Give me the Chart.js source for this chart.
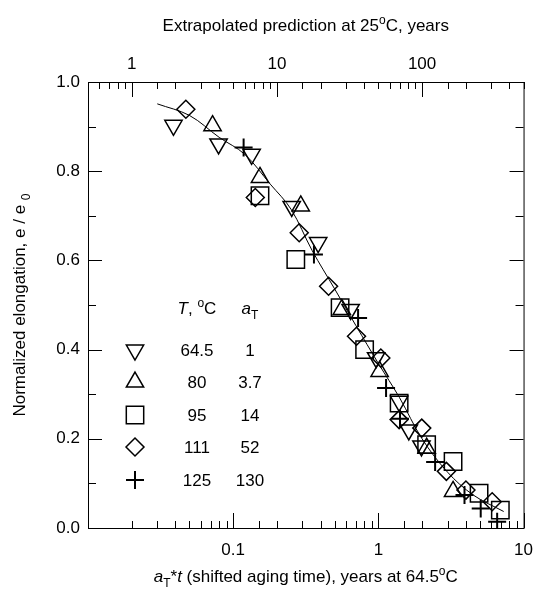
<!DOCTYPE html>
<html>
<head>
<meta charset="utf-8">
<title>Normalized elongation vs shifted aging time</title>
<script src="https://cdn.jsdelivr.net/npm/chart.js@4.4.1/dist/chart.umd.min.js"></script>
<style>
  html, body { margin: 0; padding: 0; background: #fff; overflow: hidden; }
  canvas { display: block; }
</style>
</head>
<body>
<canvas id="agingChart" width="545" height="590"></canvas>
<script>
// data: x = aT*t (years at 64.5 C), y = e/e0
const downTriX = [0.0388, 0.0793, 0.134, 0.253, 0.385, 0.644, 0.965, 1.39, 1.62, 1.98];
const downTriY = [0.903, 0.861, 0.838, 0.721, 0.640, 0.490, 0.382, 0.284, 0.220, 0.184];

const upTriX = [0.0721, 0.153, 0.292, 0.560, 1.02, 2.15, 3.27];
const upTriY = [0.902, 0.786, 0.722, 0.490, 0.351, 0.179, 0.082];

const squareX = [0.153, 0.270, 0.545, 0.804, 1.39, 2.15, 3.27, 4.94, 6.92];
const squareY = [0.745, 0.602, 0.494, 0.400, 0.280, 0.187, 0.149, 0.078, 0.040];

const diamondX = [0.0472, 0.142, 0.285, 0.454, 0.707, 1.04, 1.39, 1.99, 2.94, 4.01, 6.08];
const diamondY = [0.939, 0.741, 0.662, 0.542, 0.430, 0.381, 0.243, 0.224, 0.127, 0.085, 0.059];

const plusX = [0.118, 0.360, 0.725, 1.13, 1.41, 2.46, 3.92, 5.07, 6.58];
const plusY = [0.853, 0.613, 0.471, 0.314, 0.245, 0.148, 0.074, 0.044, 0.014];

// fitted curve
const curveX = [0.030, 0.05, 0.08, 0.12, 0.18, 0.25, 0.35, 0.5, 0.7, 1.0, 1.4, 2.0, 3.0, 4.5, 7.3];
const curveY = [0.951, 0.925, 0.876, 0.838, 0.771, 0.715, 0.622, 0.536, 0.454, 0.369, 0.292, 0.200, 0.125, 0.074, 0.037];

// legend table
const legendTemps = ['64.5', '80', '95', '111', '125'];
const legendShift = ['1', '3.7', '14', '52', '130'];

// tick labels
const xTickVals = [0.1, 1, 10];
const xTickLabels = ['0.1', '1', '10'];
const topTickVals = [1, 10, 100];
const topTickLabels = ['1', '10', '100'];
const yTickVals = [0, 0.2, 0.4, 0.6, 0.8, 1.0];
const yTickLabels = ['0.0', '0.2', '0.4', '0.6', '0.8', '1.0'];

const FONT = 'Arial, "Liberation Sans", sans-serif';

const toPoints = (xs, ys) => xs.map((x, i) => ({ x: x, y: ys[i] }));

function labelFrom(vals, labels, v) {
    const i = vals.findIndex(t => Math.abs(t - v) < 1e-6 * Math.max(1, t));
    return i >= 0 ? labels[i] : '';
}

function isDecade(v) {
    const l = Math.log10(v);
    return Math.abs(l - Math.round(l)) < 1e-6;
}

// marker styles, shared by the datasets and the legend table
const markers = [
    { pointStyle: 'triangle', radius: 10, rotation: 180, borderWidth: 1.5 },
    { pointStyle: 'triangle', radius: 10, rotation: 0, borderWidth: 1.5 },
    { pointStyle: 'rect', radius: 12.3, rotation: 0, borderWidth: 1.5 },
    { pointStyle: 'rectRot', radius: 9, rotation: 0, borderWidth: 1.5 },
    { pointStyle: 'cross', radius: 9, rotation: 0, borderWidth: 2 }
];

function markerSet(label, xs, ys, m) {
    return {
        label: label,
        data: toPoints(xs, ys),
        pointStyle: m.pointStyle,
        pointRadius: m.radius,
        pointRotation: m.rotation,
        pointBorderWidth: m.borderWidth,
        pointBorderColor: '#000',
        pointBackgroundColor: 'rgba(0,0,0,0)',
        showLine: false
    };
}

// draws text with italic / sub / superscript pieces
function richText(ctx, parts, x, y, align) {
    let total = 0;
    const items = parts.map(p => {
        const size = (p.sub || p.sup) ? 12 : 17;
        const font = (p.i ? 'italic ' : '') + size + 'px ' + FONT;
        ctx.font = font;
        const w = ctx.measureText(p.t).width;
        total += w;
        return Object.assign({}, p, { font: font, w: w });
    });
    let cx = align === 'center' ? x - total / 2 : x;
    ctx.textAlign = 'left';
    ctx.textBaseline = 'alphabetic';
    items.forEach(it => {
        ctx.font = it.font;
        ctx.fillText(it.t, cx, y + (it.sub ? 5 : it.sup ? -7 : 0));
        cx += it.w;
    });
}

const decorations = {
    id: 'decorations',
    afterDraw(chart) {
        const ctx = chart.ctx;
        const a = chart.chartArea;
        const sx = chart.scales.x, sx2 = chart.scales.x2, sy = chart.scales.y;
        ctx.save();
        ctx.strokeStyle = '#000';
        ctx.fillStyle = '#000';
        ctx.lineWidth = 1;

        // frame
        ctx.strokeRect(a.left + 0.5, a.top + 0.5, a.right - a.left, a.bottom - a.top);

        // inward tick marks
        ctx.beginPath();
        sx.ticks.forEach(t => {
            const px = Math.round(sx.getPixelForValue(t.value)) + 0.5;
            const len = isDecade(t.value) ? 15 : 7;
            ctx.moveTo(px, a.bottom);
            ctx.lineTo(px, a.bottom - len);
        });
        sx2.ticks.forEach(t => {
            const px = Math.round(sx2.getPixelForValue(t.value)) + 0.5;
            const len = isDecade(t.value) ? 15 : 7;
            ctx.moveTo(px, a.top);
            ctx.lineTo(px, a.top + len);
        });
        sy.ticks.forEach(t => {
            const py = Math.round(sy.getPixelForValue(t.value)) + 0.5;
            const len = Math.round(t.value * 10) % 2 === 0 ? 14 : 8;
            ctx.moveTo(a.left, py);
            ctx.lineTo(a.left + len, py);
            ctx.moveTo(a.right, py);
            ctx.lineTo(a.right - len, py);
        });
        ctx.stroke();

        // axis titles
        ctx.fillStyle = '#000';
        const cxMid = (a.left + a.right) / 2;
        richText(ctx, [
            { t: 'Extrapolated prediction at 25' }, { t: 'o', sup: 1 }, { t: 'C, years' }
        ], cxMid, 31, 'center');
        richText(ctx, [
            { t: 'a', i: 1 }, { t: 'T', sub: 1 }, { t: '*' }, { t: 't', i: 1 },
            { t: ' (shifted aging time), years at 64.5' }, { t: 'o', sup: 1 }, { t: 'C' }
        ], cxMid, 582, 'center');
        ctx.save();
        ctx.translate(25, (a.top + a.bottom) / 2);
        ctx.rotate(-Math.PI / 2);
        richText(ctx, [
            { t: 'Normalized elongation, e / e ' }, { t: '0', sub: 1 }
        ], 0, 0, 'center');
        ctx.restore();

        // legend table
        richText(ctx, [{ t: 'T', i: 1 }, { t: ', ' }, { t: 'o', sup: 1 }, { t: 'C' }], 197, 314, 'center');
        richText(ctx, [{ t: 'a', i: 1 }, { t: 'T', sub: 1 }], 250, 314, 'center');
        const rowY = [350, 382, 415, 447, 480];
        legendTemps.forEach((temp, i) => {
            const m = markers[i];
            ctx.save();
            ctx.strokeStyle = '#000';
            ctx.fillStyle = 'rgba(0,0,0,0)';
            ctx.lineWidth = m.borderWidth;
            Chart.helpers.drawPoint(ctx, {
                pointStyle: m.pointStyle, radius: m.radius,
                rotation: m.rotation, borderWidth: m.borderWidth
            }, 135, rowY[i]);
            ctx.restore();
            ctx.fillStyle = '#000';
            richText(ctx, [{ t: temp }], 197, rowY[i] + 6, 'center');
            richText(ctx, [{ t: legendShift[i] }], 250, rowY[i] + 6, 'center');
        });
        ctx.restore();
    }
};

const ctx = document.getElementById('agingChart').getContext('2d');
const agingChart = new Chart(ctx, {
    type: 'scatter',
    data: {
        datasets: [
            {
                label: 'fit',
                type: 'line',
                data: toPoints(curveX, curveY),
                borderColor: '#000',
                borderWidth: 1,
                pointRadius: 0,
                tension: 0.35,
                fill: false
            },
            markerSet('64.5', downTriX, downTriY, markers[0]),
            markerSet('80', upTriX, upTriY, markers[1]),
            markerSet('95', squareX, squareY, markers[2]),
            markerSet('111', diamondX, diamondY, markers[3]),
            markerSet('125', plusX, plusY, markers[4])
        ]
    },
    options: {
        responsive: false,
        animation: false,
        devicePixelRatio: 1,
        layout: { padding: { left: 0, right: 12, top: 0, bottom: 0 } },
        plugins: {
            legend: { display: false },
            tooltip: { enabled: false }
        },
        scales: {
            x: {
                type: 'logarithmic',
                position: 'bottom',
                min: 0.01,
                max: 10,
                grid: { display: false, drawTicks: false },
                border: { display: false },
                ticks: {
                    autoSkip: false,
                    maxRotation: 0,
                    padding: 12,
                    color: '#000',
                    font: { family: FONT, size: 17 },
                    callback: v => labelFrom(xTickVals, xTickLabels, v)
                },
                afterFit: s => { s.height = 62; }
            },
            x2: {
                type: 'logarithmic',
                position: 'top',
                min: 0.5,
                max: 500,
                grid: { display: false, drawTicks: false },
                border: { display: false },
                ticks: {
                    autoSkip: false,
                    maxRotation: 0,
                    padding: 7,
                    color: '#000',
                    font: { family: FONT, size: 17 },
                    callback: v => labelFrom(topTickVals, topTickLabels, v)
                },
                afterFit: s => { s.height = 82; }
            },
            y: {
                type: 'linear',
                position: 'left',
                min: 0,
                max: 1,
                grid: { display: false, drawTicks: false },
                border: { display: false },
                ticks: {
                    stepSize: 0.1,
                    autoSkip: false,
                    padding: 8,
                    color: '#000',
                    font: { family: FONT, size: 17 },
                    callback: v => labelFrom(yTickVals, yTickLabels, v)
                },
                afterFit: s => { s.width = 88; }
            }
        }
    },
    plugins: [decorations]
});
</script>
</body>
</html>
